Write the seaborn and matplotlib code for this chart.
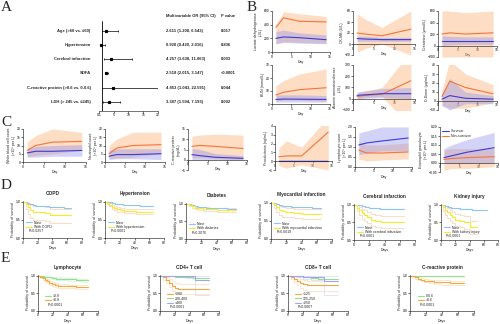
import matplotlib
matplotlib.use("Agg")
import matplotlib.pyplot as plt
import seaborn as sns
from matplotlib.lines import Line2D

sns.set_theme(style="ticks")
plt.rcParams['font.family'] = ['Liberation Sans', 'DejaVu Sans']
plt.rcParams['axes.linewidth'] = 0.45

W, H = 500, 324
fig = plt.figure(figsize=(5.0, 3.24), dpi=100)
fig.patch.set_facecolor('white')

# ---------------- data: multivariable logistic regression ----------------
or_labels = ["Age (>60 vs. \u226460)", "Hypertension", "Cerebral infarction", "SOFA",
             "C-reactive protein (>0.6 vs. 0-0.6)", "LDH (> 245 vs. \u2264245)"]
or_est = [2.611, 0.920, 4.257, 2.518, 4.853, 3.387]
or_lo = [1.208, 0.420, 1.638, 2.015, 1.043, 1.594]
or_hi = [6.543, 2.016, 11.063, 3.147, 22.591, 7.193]
or_p = ["0.017", "0.836", "0.003", "<0.0001", "0.044", "0.002"]

# ---------------- data: laboratory trajectories (day 1, 3, 7, 14) ----------------
days = [1, 3, 7, 14]

ldh_ns = [360, 500, 450, 440]; ldh_ns_lo = [120, 150, 140, 130]; ldh_ns_hi = [400, 590, 560, 520]
ldh_sv = [200, 220, 210, 180]; ldh_sv_lo = [120, 140, 130, 120]; ldh_sv_hi = [300, 320, 280, 250]

ckmb_ns = [20, 18, 15, 27]; ckmb_ns_lo = [-15, -8, 0, -20]; ckmb_ns_hi = [55, 45, 30, 60]
ckmb_sv = [10, 9, 8, 8]; ckmb_sv_lo = [5, 5, 5, 5]; ckmb_sv_hi = [15, 14, 12, 12]

crea_ns = [200, 220, 200, 220]; crea_ns_lo = [-200, -200, -200, -200]; crea_ns_hi = [600, 600, 570, 600]
crea_sv = [80, 80, 80, 80]; crea_sv_lo = [0, 10, 20, 20]; crea_sv_hi = [170, 160, 150, 150]

bun_ns = [7, 9, 11, 12.5]; bun_ns_lo = [2, 3, 3, 2]; bun_ns_hi = [14, 18, 23, 27]
bun_sv = [3.5, 3.8, 3.7, 3.5]; bun_sv_lo = [1.5, 1.5, 1.5, 1.5]; bun_sv_hi = [7, 7, 7, 6.5]

alt_ns = [20, 30, 40, 160]; alt_ns_lo = [0, 10, 20, -250]; alt_ns_hi = [50, 70, 100, 420]
alt_sv = [30, 35, 45, 45]; alt_sv_lo = [0, 5, 10, 0]; alt_sv_hi = [60, 70, 90, 100]

dd_ns = [5, 22, 15, 8]; dd_ns_lo = [-5, -8, -8, -2]; dd_ns_hi = [12, 45, 30, 18]
dd_sv = [2, 6, 3, 2]; dd_sv_lo = [-5, -10, -3, -3]; dd_sv_hi = [8, 25, 10, 6]

wbc_ns = [7, 10, 12, 12.5]; wbc_ns_lo = [3, 4, 5, 7]; wbc_ns_hi = [12, 16, 20, 18]
wbc_sv = [5.5, 6.5, 6.5, 7]; wbc_sv_lo = [3, 3, 3.5, 3.5]; wbc_sv_hi = [8, 9.5, 10, 10.5]

neu_ns = [5, 8.5, 10, 10.5]; neu_ns_lo = [2, 2.5, 3, 5]; neu_ns_hi = [10, 14, 18, 18]
neu_sv = [3.5, 4.5, 4.5, 5]; neu_sv_lo = [1.5, 2, 2, 1.5]; neu_sv_hi = [7, 8, 8, 8]

crp_ns = [6.5, 7, 6.5, 5.5]; crp_ns_lo = [1, 1, 0.5, 0]; crp_ns_hi = [11.5, 12, 12.5, 12]
crp_sv = [2.5, 2, 1.2, 0.7]; crp_sv_lo = [0, 0, 0, 0]; crp_sv_hi = [5.5, 5, 3, 2]

pct_ns = [0.5, 0.6, 0.6, 3.3]; pct_ns_lo = [-0.5, -0.8, -0.4, -1.0]; pct_ns_hi = [1.5, 2.3, 1.6, 5.0]
pct_sv = [0.05, 0.05, 0.05, 0.05]; pct_sv_lo = [0, 0, 0, 0]; pct_sv_hi = [0.1, 0.1, 0.1, 0.1]

lym_ns = [0.85, 0.7, 0.7, 0.75]; lym_ns_lo = [0.4, 0.3, 0.35, 0.4]; lym_ns_hi = [1.3, 1.1, 1.1, 1.2]
lym_sv = [1.1, 1.2, 1.3, 1.45]; lym_sv_lo = [0.6, 0.7, 0.8, 0.8]; lym_sv_hi = [1.7, 1.8, 2.0, 2.0]

eos_ns = [0.02, 0.025, 0.03, 0.035]; eos_ns_lo = [-0.04, -0.03, -0.03, -0.02]; eos_ns_hi = [0.07, 0.08, 0.08, 0.08]
eos_sv = [0.03, 0.04, 0.06, 0.085]; eos_sv_lo = [0.0, 0.0, 0.0, 0.0]; eos_sv_hi = [0.08, 0.10, 0.13, 0.17]

# ---------------- data: Kaplan-Meier curves ----------------
copd_none_t = [0, 2, 5, 8, 11, 14, 18, 23, 28, 35, 45, 55, 65]
copd_none_s = [1.00, 0.99, 0.97, 0.95, 0.93, 0.91, 0.89, 0.88, 0.87, 0.86, 0.85, 0.84, 0.84]
copd_with_t = [0, 4, 7, 10, 14, 30, 36, 65]
copd_with_s = [1.00, 0.93, 0.85, 0.78, 0.72, 0.70, 0.64, 0.64]
copd_with_lo = [1.00, 0.80, 0.66, 0.56, 0.50, 0.47, 0.40, 0.40]
copd_with_hi = [1.00, 0.99, 0.96, 0.92, 0.87, 0.85, 0.81, 0.81]

htn_none_t = [0, 3, 6, 10, 14, 18, 24, 30, 40, 48, 55, 65]
htn_none_s = [1.00, 0.99, 0.98, 0.96, 0.94, 0.93, 0.92, 0.91, 0.90, 0.89, 0.88, 0.88]
htn_with_t = [0, 3, 6, 9, 12, 16, 20, 26, 34, 42, 65]
htn_with_s = [1.00, 0.97, 0.92, 0.86, 0.82, 0.79, 0.77, 0.75, 0.74, 0.73, 0.73]
htn_with_lo = [1.00, 0.94, 0.87, 0.80, 0.76, 0.73, 0.71, 0.69, 0.68, 0.67, 0.67]
htn_with_hi = [1.00, 0.99, 0.96, 0.91, 0.88, 0.85, 0.83, 0.81, 0.80, 0.79, 0.79]

dm_none_t = [0, 3, 6, 10, 14, 20, 26, 34, 44, 54, 65]
dm_none_s = [1.00, 0.99, 0.97, 0.94, 0.92, 0.90, 0.89, 0.88, 0.87, 0.86, 0.86]
dm_with_t = [0, 4, 8, 12, 16, 22, 30, 40, 65]
dm_with_s = [1.00, 0.97, 0.93, 0.89, 0.87, 0.85, 0.84, 0.82, 0.82]
dm_with_lo = [1.00, 0.94, 0.89, 0.84, 0.81, 0.79, 0.78, 0.76, 0.76]
dm_with_hi = [1.00, 0.99, 0.96, 0.93, 0.92, 0.90, 0.89, 0.88, 0.88]

mi_none_t = [0, 3, 6, 10, 14, 20, 26, 34, 44, 54, 65]
mi_none_s = [1.00, 0.99, 0.97, 0.94, 0.92, 0.90, 0.89, 0.88, 0.87, 0.86, 0.86]
mi_with_t = [0, 4, 7, 10, 14, 20, 30, 40, 65]
mi_with_s = [1.00, 0.95, 0.87, 0.80, 0.76, 0.74, 0.72, 0.70, 0.70]
mi_with_lo = [1.00, 0.85, 0.74, 0.66, 0.62, 0.60, 0.57, 0.55, 0.55]
mi_with_hi = [1.00, 1.00, 0.96, 0.91, 0.88, 0.86, 0.84, 0.82, 0.82]

ci_none_t = [0, 3, 6, 10, 14, 20, 26, 34, 44, 54, 65]
ci_none_s = [1.00, 0.99, 0.98, 0.95, 0.93, 0.91, 0.90, 0.89, 0.88, 0.87, 0.87]
ci_with_t = [0, 4, 7, 10, 13, 17, 22, 28, 35, 45, 65]
ci_with_s = [1.00, 0.92, 0.84, 0.76, 0.70, 0.64, 0.58, 0.55, 0.50, 0.50, 0.50]
ci_with_lo = [1.00, 0.82, 0.70, 0.60, 0.53, 0.47, 0.41, 0.38, 0.33, 0.33, 0.33]
ci_with_hi = [1.00, 0.98, 0.94, 0.89, 0.85, 0.80, 0.75, 0.72, 0.67, 0.67, 0.67]

aki_none_t = [0, 3, 6, 10, 14, 20, 26, 34, 44, 54, 65]
aki_none_s = [1.00, 0.99, 0.97, 0.94, 0.92, 0.90, 0.88, 0.87, 0.86, 0.85, 0.85]
aki_with_t = [0, 3, 6, 9, 12, 16, 20, 26, 32, 40, 50]
aki_with_s = [1.00, 0.93, 0.85, 0.78, 0.71, 0.64, 0.58, 0.55, 0.50, 0.36, 0.36]
aki_with_lo = [1.00, 0.83, 0.72, 0.63, 0.55, 0.47, 0.41, 0.37, 0.32, 0.18, 0.18]
aki_with_hi = [1.00, 0.99, 0.95, 0.90, 0.85, 0.80, 0.75, 0.72, 0.68, 0.55, 0.55]

lymph_hi_t = [0, 4, 8, 12, 18, 24, 30, 40, 50, 60, 67]
lymph_hi_s = [1.00, 0.99, 0.97, 0.95, 0.93, 0.92, 0.91, 0.90, 0.89, 0.87, 0.87]
lymph_hi_lo = [1.00, 0.97, 0.95, 0.92, 0.90, 0.89, 0.88, 0.86, 0.85, 0.83, 0.83]
lymph_hi_hi = [1.00, 1.00, 0.99, 0.97, 0.96, 0.95, 0.94, 0.93, 0.92, 0.91, 0.91]
lymph_lo_t = [0, 3, 6, 9, 12, 15, 18, 22, 26, 32, 40, 50, 67]
lymph_lo_s = [1.00, 0.97, 0.93, 0.88, 0.84, 0.80, 0.77, 0.74, 0.72, 0.71, 0.70, 0.69, 0.69]
lymph_lo_lo = [1.00, 0.94, 0.89, 0.83, 0.78, 0.74, 0.71, 0.68, 0.66, 0.65, 0.64, 0.63, 0.63]
lymph_lo_hi = [1.00, 0.99, 0.96, 0.92, 0.89, 0.85, 0.82, 0.79, 0.77, 0.76, 0.75, 0.74, 0.74]

cd4_low_t = [0, 4, 8, 12, 16, 20, 25, 67]
cd4_low_s = [1.00, 0.95, 0.88, 0.80, 0.72, 0.66, 0.62, 0.62]
cd4_low_lo = [1.00, 0.88, 0.78, 0.68, 0.58, 0.52, 0.48, 0.48]
cd4_low_hi = [1.00, 1.00, 0.96, 0.90, 0.84, 0.79, 0.76, 0.76]
cd4_mid_t = [0, 10, 20, 30, 45, 67]
cd4_mid_s = [1.00, 0.98, 0.96, 0.95, 0.93, 0.93]
cd4_high_t = [0, 20, 35, 48, 67]
cd4_high_s = [1.00, 0.99, 0.98, 0.88, 0.88]
cd4_high_lo = [1.00, 0.96, 0.93, 0.45, 0.45]
cd4_high_hi = [1.00, 1.00, 1.00, 0.99, 0.99]

cd8_low_t = [0, 4, 8, 12, 16, 20, 25, 67]
cd8_low_s = [1.00, 0.96, 0.91, 0.86, 0.80, 0.76, 0.73, 0.73]
cd8_low_lo = [1.00, 0.90, 0.82, 0.74, 0.66, 0.60, 0.56, 0.56]
cd8_low_hi = [1.00, 1.00, 0.98, 0.95, 0.90, 0.87, 0.85, 0.85]
cd8_mid_t = [0, 10, 20, 30, 40, 67]
cd8_mid_s = [1.00, 0.98, 0.95, 0.93, 0.92, 0.92]
cd8_high_t = [0, 10, 20, 30, 48, 67]
cd8_high_s = [1.00, 0.99, 0.96, 0.95, 0.85, 0.85]
cd8_high_lo = [1.00, 0.96, 0.90, 0.88, 0.45, 0.45]
cd8_high_hi = [1.00, 1.00, 1.00, 0.99, 0.98, 0.98]

crpg_norm_t = [0, 10, 30, 67]
crpg_norm_s = [1.00, 0.99, 0.98, 0.98]
crpg_high_t = [0, 3, 6, 10, 14, 18, 24, 30, 40, 50, 60, 67]
crpg_high_s = [1.00, 0.98, 0.95, 0.92, 0.89, 0.86, 0.84, 0.82, 0.81, 0.80, 0.79, 0.79]
crpg_high_lo = [1.00, 0.96, 0.92, 0.88, 0.84, 0.81, 0.78, 0.76, 0.75, 0.74, 0.73, 0.73]
crpg_high_hi = [1.00, 1.00, 0.98, 0.95, 0.93, 0.91, 0.89, 0.88, 0.87, 0.86, 0.85, 0.85]

# ---------------- styling ----------------
ORANGE = "#F4743B"; ORANGE_BAND = "#FBB57A"
BLUE = "#3B3BD6"; BLUE_BAND = "#8C8CEB"
KM_BLUE = "#8EC5F7"; KM_YELLOW = "#F2EC2E"
KM_YELLOW_CI = "#F8CDB0"
KM_GREEN = "#8DE38D"; KM_ORANGE = "#F7A540"; KM_LAV = "#A3A3F2"
KM_GREEN_CI = "#D3F3D3"; KM_ORANGE_CI = "#FBDDB5"; KM_LAV_CI = "#D8D8F8"
TICK = 2.4
LAB = 2.6


def add_ax(x0, y0, x1, y1):
    return fig.add_axes([x0 / W, 1 - y1 / H, (x1 - x0) / W, (y1 - y0) / H])


def prism(ax):
    for s in ("top", "right"):
        ax.spines[s].set_visible(False)
    ax.tick_params(length=1.2, width=0.4, pad=0.6, labelsize=TICK, colors="black")
    ax.set_facecolor("none")


def panel_letter(x, y, s):
    fig.text(x / W, 1 - y / H, s, fontsize=11, family="Liberation Serif", va="top", ha="left")


# ---------------- A: forest plot ----------------
axA = add_ax(99, 21, 158, 111)
prism(axA)
axA.spines["left"].set_visible(False)
rows = list(range(len(or_est)))
for r, e, lo, hi in zip(rows, or_est, or_lo, or_hi):
    axA.errorbar([e], [r], xerr=[[e - lo], [hi - e]], fmt="s", color="black",
                 ms=1.3, lw=0.5, capsize=0.9, capthick=0.5)
axA.axvline(1, color="black", lw=0.6, ymax=1)
axA.set_xlim(0.1, 20)
axA.set_ylim(5.65, -0.7)
axA.set_yticks([])
axA.set_xticks([0.1, 5, 10, 15, 20])
axA.set_xticklabels(["0.1", "5", "10", "15", "20"])
tr = axA.get_yaxis_transform()
for r, lab, e, lo, hi, p in zip(rows, or_labels, or_est, or_lo, or_hi, or_p):
    axA.text(-0.14, r, lab, transform=tr, ha="right", va="center", fontsize=3.0, fontweight="bold")
    axA.text(1.135, r, f"{e:.3f} ({lo:.3f}, {hi:.3f})", transform=tr, ha="left", va="center",
             fontsize=3.0, fontweight="bold")
    axA.text(2.07, r, p, transform=tr, ha="left", va="center", fontsize=3.0, fontweight="bold")
fig.text(166 / W, 1 - 16 / H, "Multivariable OR (95% CI)", fontsize=3.0, fontweight="bold", va="center")
fig.text(221 / W, 1 - 16 / H, "P value", fontsize=3.0, fontweight="bold", va="center")
panel_letter(1, 1, "A")


# ---------------- B / C: trajectories ----------------
def traj(box, ns, ns_lo, ns_hi, sv, sv_lo, sv_hi, ylim, yticks, ylabel, legend=False):
    ax = add_ax(*box)
    prism(ax)
    ax.fill_between(days, ns_lo, ns_hi, color=ORANGE_BAND, alpha=0.45, lw=0)
    ax.fill_between(days, sv_lo, sv_hi, color=BLUE_BAND, alpha=0.38, lw=0)
    sns.lineplot(x=days, y=ns, ax=ax, color=ORANGE, lw=0.8, label="Non-survivor")
    sns.lineplot(x=days, y=sv, ax=ax, color=BLUE, lw=0.8, label="Survivor")
    ax.set_xlim(0, 15)
    ax.set_ylim(*ylim)
    ax.set_xticks([0, 5, 10, 15])
    ax.set_yticks(yticks)
    if ylim[0] < 0:
        ax.spines["bottom"].set_position(("data", 0))
    ax.set_xlabel("Day", fontsize=LAB, labelpad=0.8)
    ax.set_ylabel(ylabel, fontsize=LAB, labelpad=0.8)
    if legend:
        h, l = ax.get_legend_handles_labels()
        ax.legend(h[::-1], l[::-1], loc="upper left", fontsize=2.6, frameon=False,
                  handlelength=1.8, handletextpad=0.5, borderaxespad=0.2, labelspacing=0.3)
    else:
        ax.get_legend().remove()
    return ax


traj((272, 11, 330, 52), ldh_ns, ldh_ns_lo, ldh_ns_hi, ldh_sv, ldh_sv_lo, ldh_sv_hi,
     (0, 600), [0, 200, 400, 600], "Lactate dehydrogenase\n(U/L)")
traj((353, 11, 415, 55), ckmb_ns, ckmb_ns_lo, ckmb_ns_hi, ckmb_sv, ckmb_sv_lo, ckmb_sv_hi,
     (-20, 60), [-20, 0, 20, 40, 60], "CK-MB (U/L)")
traj((438, 11, 497, 57), crea_ns, crea_ns_lo, crea_ns_hi, crea_sv, crea_sv_lo, crea_sv_hi,
     (-200, 600), [-200, 0, 200, 400, 600], "Creatinine (\u03bcmol/L)")
traj((272, 65, 330, 104), bun_ns, bun_ns_lo, bun_ns_hi, bun_sv, bun_sv_lo, bun_sv_hi,
     (0, 30), [0, 10, 20, 30], "BUN (mmol/L)")
traj((353, 65, 415, 110), alt_ns, alt_ns_lo, alt_ns_hi, alt_sv, alt_sv_lo, alt_sv_hi,
     (-100, 300), [-100, 0, 100, 200, 300], "Alanine aminotransferase\n(U/L)")
traj((438, 65, 497, 110), dd_ns, dd_ns_lo, dd_ns_hi, dd_sv, dd_sv_lo, dd_sv_hi,
     (-10, 40), [-10, 0, 10, 20, 30, 40], "D-Dimer (\u03bcg/mL)")
panel_letter(247, 1, "B")

traj((23, 129, 86, 162), wbc_ns, wbc_ns_lo, wbc_ns_hi, wbc_sv, wbc_sv_lo, wbc_sv_hi,
     (0, 20), [0, 5, 10, 15, 20], "White blood cell count\n(\u00d710\u2079 per L)")
traj((105, 129, 165, 162), neu_ns, neu_ns_lo, neu_ns_hi, neu_sv, neu_sv_lo, neu_sv_hi,
     (0, 20), [0, 5, 10, 15, 20], "Neutrophil count\n(\u00d710\u2079 per L)")
traj((188, 129, 247, 170), crp_ns, crp_ns_lo, crp_ns_hi, crp_sv, crp_sv_lo, crp_sv_hi,
     (-5, 15), [-5, 0, 5, 10, 15], "C-reactive protein\n(mg/dL)")
traj((275, 126, 332, 170), pct_ns, pct_ns_lo, pct_ns_hi, pct_sv, pct_sv_lo, pct_sv_hi,
     (-1, 4), [-1, 0, 1, 2, 3, 4], "Procalcitonin (ng/mL)")
traj((355, 127, 412, 167), lym_ns, lym_ns_lo, lym_ns_hi, lym_sv, lym_sv_lo, lym_sv_hi,
     (0, 2.0), [0, 0.5, 1.0, 1.5, 2.0], "Lymphocyte count\n(\u00d710\u2079 per L)")
traj((440, 127, 498, 172), eos_ns, eos_ns_lo, eos_ns_hi, eos_sv, eos_sv_lo, eos_sv_hi,
     (-0.05, 0.20), [-0.05, 0.0, 0.05, 0.10, 0.15, 0.20], "Eosinophil granulocyte\n(\u00d710\u2079 per L)",
     legend=True)
panel_letter(1, 116, "C")


# ---------------- D / E: survival curves ----------------
def km(box, title, curves, ci, labels, ptext, leg_top, leg_x):
    ax = add_ax(*box)
    prism(ax)
    for (t, lo, hi, c) in ci:
        sns.lineplot(x=t, y=lo, ax=ax, color=c, lw=0.5, drawstyle="steps-post")
        sns.lineplot(x=t, y=hi, ax=ax, color=c, lw=0.5, drawstyle="steps-post")
    handles = []
    for (t, s, c) in curves:
        sns.lineplot(x=t, y=s, ax=ax, color=c, lw=0.8, drawstyle="steps-post")
        handles.append(Line2D([], [], color=c, lw=0.8))
    ax.set_xlim(0, 80)
    ax.set_ylim(0, 1.02)
    ax.set_xticks([0, 20, 40, 60, 80])
    ax.set_yticks([0, 0.5, 1.0])
    ax.set_yticklabels(["0.0", "0.5", "1.0"])
    ax.set_xlabel("Days", fontsize=LAB, labelpad=0.8)
    ax.set_ylabel("Probability of survival", fontsize=LAB, labelpad=0.8)
    ax.set_title(title, fontsize=3.4, pad=4, fontweight="bold")
    ax.legend(handles, labels, loc="upper left", bbox_to_anchor=(leg_x, leg_top), fontsize=2.5,
              frameon=False, handlelength=1.8, handletextpad=0.5, labelspacing=0.1,
              borderpad=0, borderaxespad=0)
    ax.text(leg_x + 0.04, leg_top - 0.105 * len(labels) - 0.03, ptext, transform=ax.transAxes,
            fontsize=2.5, va="top")
    return ax


km((23, 201, 82, 238), "COPD",
   [(copd_none_t, copd_none_s, KM_BLUE), (copd_with_t, copd_with_s, KM_YELLOW)],
   [(copd_with_t, copd_with_lo, copd_with_hi, KM_YELLOW_CI)],
   ["None", "With COPD"], "P=0.0257", 0.47, 0.05)
km((105, 201, 164, 238), "Hypertension",
   [(htn_none_t, htn_none_s, KM_BLUE), (htn_with_t, htn_with_s, KM_YELLOW)],
   [(htn_with_t, htn_with_lo, htn_with_hi, KM_YELLOW_CI)],
   ["None", "With hypertension"], "P<0.0001", 0.47, 0.05)
km((186, 203, 247, 239), "Diabetes",
   [(dm_none_t, dm_none_s, KM_BLUE), (dm_with_t, dm_with_s, KM_YELLOW)],
   [(dm_with_t, dm_with_lo, dm_with_hi, KM_YELLOW_CI)],
   ["None", "With diabetes"], "P=0.2076", 0.47, 0.05)
km((271, 202, 332, 239), "Myocardial infarction",
   [(mi_none_t, mi_none_s, KM_BLUE), (mi_with_t, mi_with_s, KM_YELLOW)],
   [(mi_with_t, mi_with_lo, mi_with_hi, KM_YELLOW_CI)],
   ["None", "With myocardial infarction"], "P=0.0019", 0.47, 0.05)
km((354, 204, 415, 240), "Cerebral infarction",
   [(ci_none_t, ci_none_s, KM_BLUE), (ci_with_t, ci_with_s, KM_YELLOW)],
   [(ci_with_t, ci_with_lo, ci_with_hi, KM_YELLOW_CI)],
   ["None", "With cerebral infarction"], "P<0.0001", 0.40, 0.05)
km((441, 204, 498, 240), "Kidney injury",
   [(aki_none_t, aki_none_s, KM_BLUE), (aki_with_t, aki_with_s, KM_YELLOW)],
   [(aki_with_t, aki_with_lo, aki_with_hi, KM_YELLOW_CI)],
   ["None", "With kidney injury"], "P<0.0001", 0.40, 0.05)
panel_letter(1, 179, "D")

km((38, 275, 98, 311), "Lymphocyte",
   [(lymph_hi_t, lymph_hi_s, KM_GREEN), (lymph_lo_t, lymph_lo_s, KM_ORANGE)],
   [(lymph_hi_t, lymph_hi_lo, lymph_hi_hi, KM_GREEN_CI), (lymph_lo_t, lymph_lo_lo, lymph_lo_hi, KM_ORANGE_CI)],
   [">0.8", "<0.8"], "P<0.0001", 0.47, 0.12)
km((160, 275, 219, 311), "CD4+ T cell",
   [(cd4_low_t, cd4_low_s, KM_ORANGE), (cd4_mid_t, cd4_mid_s, KM_GREEN), (cd4_high_t, cd4_high_s, KM_LAV)],
   [(cd4_low_t, cd4_low_lo, cd4_low_hi, KM_ORANGE_CI), (cd4_high_t, cd4_high_lo, cd4_high_hi, KM_LAV_CI)],
   ["<200", "200-400", ">400"], "P<0.0001", 0.52, 0.12)
km((288, 275, 348, 311), "CD8+ T cell",
   [(cd8_low_t, cd8_low_s, KM_ORANGE), (cd8_mid_t, cd8_mid_s, KM_GREEN), (cd8_high_t, cd8_high_s, KM_LAV)],
   [(cd8_low_t, cd8_low_lo, cd8_low_hi, KM_ORANGE_CI), (cd8_high_t, cd8_high_lo, cd8_high_hi, KM_LAV_CI)],
   ["<125", "125-250", ">250"], "P=0.0007", 0.52, 0.12)
km((410, 275, 474, 311), "C-reactive protein",
   [(crpg_norm_t, crpg_norm_s, KM_GREEN), (crpg_high_t, crpg_high_s, KM_ORANGE)],
   [(crpg_high_t, crpg_high_lo, crpg_high_hi, KM_ORANGE_CI)],
   ["0-0.6", ">0.6"], "P<0.0001", 0.47, 0.12)
panel_letter(1, 252, "E")

fig.savefig("out.png", dpi=100, facecolor="white")
